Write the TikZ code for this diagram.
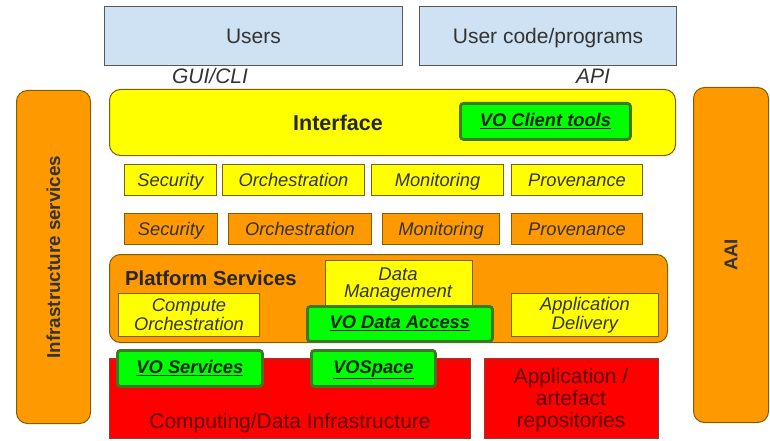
\documentclass[tikz,border=0pt]{standalone}
\usepackage{fontspec}
\setmainfont{Liberation Sans}
\usetikzlibrary{positioning}
\definecolor{lightblue}{HTML}{CFE2F3}
\definecolor{boxyellow}{HTML}{FFFF00}
\definecolor{boxorange}{HTML}{FF9900}
\definecolor{boxred}{HTML}{FF0000}
\definecolor{boxgreen}{HTML}{00FF00}
\definecolor{greenedge}{HTML}{3A7A22}
\definecolor{edgegray}{HTML}{595959}
\definecolor{edgebrown}{HTML}{7F6000}
\definecolor{ink}{HTML}{333333}
\definecolor{redink}{HTML}{5C0000}
\newcommand{\bigfont}{\fontsize{21}{24}\selectfont}
\newcommand{\smallfont}{\fontsize{18.3}{20}\selectfont}
\tikzset{
  x=1pt, y=-1pt,
  base/.style={anchor=north west, inner sep=0pt, align=center, text=ink},
  oneline/.style={text height=13.5pt, text depth=4pt},
  tagline/.style={text height=16pt, text depth=2.5pt},
  userline/.style={text height=17.5pt, text depth=2pt},
  userbox/.style={base, userline, fill=lightblue, draw=edgegray, line width=1pt, font=\bigfont},
  layer/.style={base, draw=edgebrown, line width=1pt, rounded corners=11pt},
  tagbox/.style={base, draw=edgebrown, line width=1pt, font=\smallfont\itshape},
  yellowtag/.style={tagbox, fill=boxyellow},
  orangetag/.style={tagbox, fill=boxorange},
  redbox/.style={base, fill=boxred, draw=edgegray!70!red, line width=1pt, text=redink, font=\bigfont},
  vobox/.style={base, oneline, fill=boxgreen, draw=greenedge, line width=2.8pt, rounded corners=3pt,
    font=\smallfont\bfseries\itshape, text=black!85!green},
  sidebar/.style={base, fill=boxorange, draw=edgebrown, line width=1pt, rounded corners=11pt},
  plain/.style={inner sep=0pt, text=ink},
}
\begin{document}
\begin{tikzpicture}
\useasboundingbox (0,0) rectangle (770,441);
\fill[white] (0,0) rectangle (770,441);

% users on top
\node[userbox, minimum width=298pt, minimum height=59pt] (users) at (104,6) {Users};
\node[userbox, minimum width=257pt, minimum height=59pt] (code) at (419,6) {User code/programs};
\node[plain, font=\bigfont\itshape] (gui) at (210,76) {GUI/CLI};
\node[plain, font=\bigfont\itshape] (api) at (593,76) {API};

% side bars
\node[sidebar, minimum width=74pt, minimum height=333pt] (infra) at (16,90) {};
\node[plain, rotate=90, font=\fontsize{18.8}{20}\selectfont\bfseries] (infralabel) at (infra.center) {Infrastructure services};
\node[sidebar, minimum width=75pt, minimum height=335pt] (aai) at (693,87) {};
\node[plain, rotate=90, font=\fontsize{18.5}{20}\selectfont\bfseries] (aailabel) at (aai.center) {AAI};

% interface layer
\node[layer, fill=boxyellow, minimum width=566pt, minimum height=66pt] (iface) at (109,89) {};
\node[plain, font=\fontsize{21.5}{24}\selectfont\bfseries, text=black!85] (ifacelabel) at (338,123) {Interface};
\node[vobox, minimum width=170pt, minimum height=36pt] (client) at (459,102) {\underline{VO Client tools}};

% cross-cutting services, upper row
\node[yellowtag, tagline, minimum width=92pt, minimum height=31pt] (sec1) at (124,164) {Security};
\node[yellowtag, tagline, minimum width=142pt, minimum height=31pt] (orc1) at (222,164) {Orchestration};
\node[yellowtag, tagline, minimum width=132pt, minimum height=31pt] (mon1) at (371,164) {Monitoring};
\node[yellowtag, tagline, minimum width=131pt, minimum height=31pt] (pro1) at (511,164) {Provenance};

% cross-cutting services, lower row
\node[orangetag, tagline, minimum width=93pt, minimum height=31pt] (sec2) at (124,213) {Security};
\node[orangetag, tagline, minimum width=143pt, minimum height=31pt] (orc2) at (228,213) {Orchestration};
\node[orangetag, tagline, minimum width=117pt, minimum height=31pt] (mon2) at (382,213) {Monitoring};
\node[orangetag, tagline, minimum width=131pt, minimum height=31pt] (pro2) at (511,213) {Provenance};

% platform services layer
\node[layer, fill=boxorange, minimum width=558pt, minimum height=88pt] (platform) at (109,254) {};
\node[plain, font=\fontsize{20.3}{22}\selectfont\bfseries, text=black!85, anchor=west] (platlabel) at (125,278) {Platform Services};
\node[yellowtag, minimum width=147pt, minimum height=50pt] (dataman) at (325,260) {};
\node[plain, font=\fontsize{18.5}{19}\selectfont\itshape] (datalabel1) at (398,274) {Data};
\node[plain, font=\fontsize{18.5}{19}\selectfont\itshape] (datalabel2) at (398,293) {Management};
\node[yellowtag, minimum width=141pt, minimum height=43pt] (compute) at (118,293) {Compute\\[-1pt]Orchestration};
\node[yellowtag, minimum width=147pt, minimum height=43pt] (appdel) at (511,293) {Application\\[-1pt]Delivery};
\node[vobox, minimum width=185pt, minimum height=35pt] (dataaccess) at (306,305) {\underline{VO Data Access}};

% infrastructure layer
\node[redbox, minimum width=361pt, minimum height=80pt] (computing) at (109,358) {};
\node[plain, text=redink, font=\bigfont] (complabel) at (290,423) {Computing/Data Infrastructure};
\node[redbox, minimum width=174pt, minimum height=80pt] (repos) at (484,358) {};
\node[plain, text=redink, font=\bigfont, align=center] (reposlabel) at (571,400) {Application /\\[-2pt]artefact\\[-2pt]repositories};
\node[vobox, minimum width=145pt, minimum height=36pt] (voserv) at (116,349) {\underline{VO Services}};
\node[vobox, minimum width=124pt, minimum height=36pt] (vospace) at (310,349) {\underline{VOSpace}};
\end{tikzpicture}
\end{document}
